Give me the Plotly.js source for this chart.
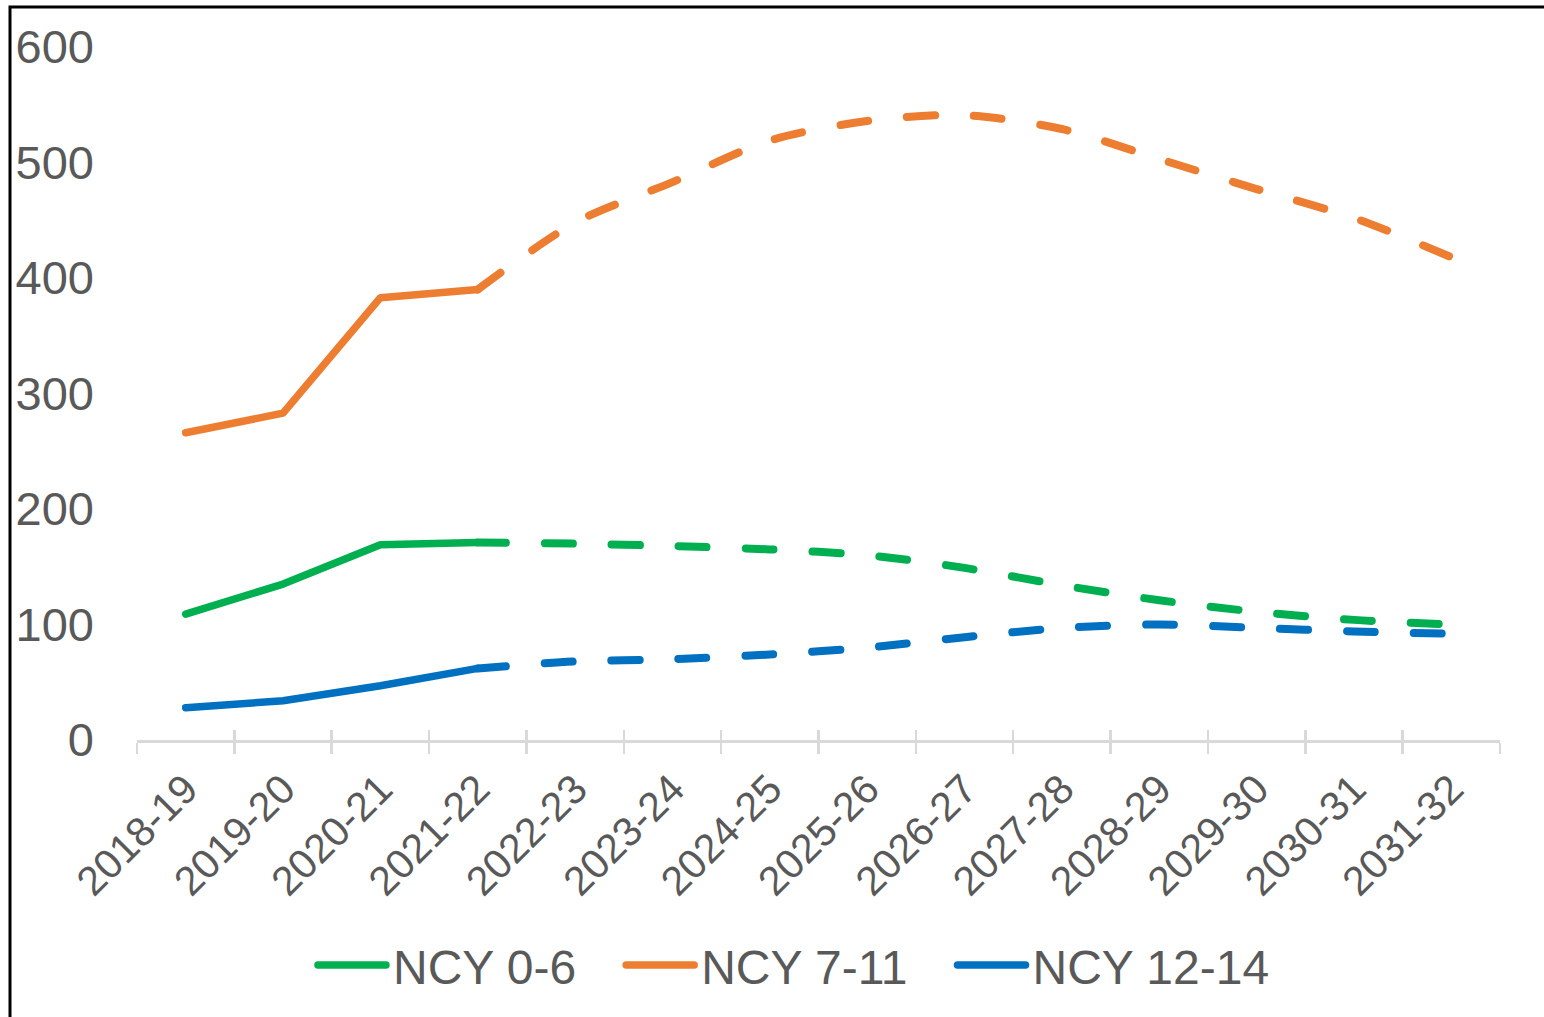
<!DOCTYPE html>
<html>
<head>
<meta charset="utf-8">
<script src="https://cdn.plot.ly/plotly-3.0.1.min.js"></script>
<style>
  html, body { margin: 0; padding: 0; background: #ffffff; }
  #chart { width: 1544px; height: 1017px; }
  path.js-line { stroke-linecap: round !important; stroke-linejoin: round !important; }
</style>
</head>
<body>
<div id="chart"></div>
<script>
const categories = ["2018-19","2019-20","2020-21","2021-22","2022-23","2023-24","2024-25","2025-26","2026-27","2027-28","2028-29","2029-30","2030-31","2031-32"];
const ncy0_6   = [109, 135, 169, 171, 170, 168, 165, 160, 149, 134, 121, 111, 104, 100];
const ncy7_11  = [266, 283, 383, 390, 448, 483, 519, 536, 541, 529, 503, 477, 452, 418];
const ncy12_14 = [28, 34, 47, 62, 68, 70, 74, 80, 89, 97, 100, 97, 94, 92];
const seriesNames = ["NCY 0-6", "NCY 7-11", "NCY 12-14"];
const lastActual = 3; // index of 2021-22, last solid point

const colors = ["#00B050", "#ED7D31", "#0070C0"];
const allSeries = [ncy0_6, ncy7_11, ncy12_14];
const FONT = "Liberation Sans, Arial, sans-serif";
const TXT = "#595959";
const NB = "\u00a0\u00a0\u00a0";

const traces = [];
allSeries.forEach((vals, i) => {
  traces.push({
    x: categories.slice(0, lastActual + 1),
    y: vals.slice(0, lastActual + 1),
    type: "scatter", mode: "lines",
    name: seriesNames[i] + (i < allSeries.length - 1 ? NB : ""),
    line: { color: colors[i], width: 7.5, shape: "linear" },
    legendgroup: "g" + i
  });
});
allSeries.forEach((vals, i) => {
  traces.push({
    x: categories.slice(lastActual),
    y: vals.slice(lastActual),
    type: "scatter", mode: "lines", name: seriesNames[i] + " (projected)",
    line: { color: colors[i], width: 8, shape: "spline", smoothing: 0.8, dash: "28px,39px" },
    showlegend: false, legendgroup: "g" + i
  });
});
// invisible helper trace for inward tick marks (ticks crossing the axis line)
traces.push({
  x: categories, y: categories.map(() => null), xaxis: "x2", yaxis: "y",
  type: "scatter", mode: "lines", showlegend: false, hoverinfo: "skip"
});

const layout = {
  width: 1544, height: 1017,
  paper_bgcolor: "#ffffff", plot_bgcolor: "#ffffff",
  margin: { l: 137, r: 44, t: 47, b: 277 },
  font: { family: FONT, color: TXT },
  showlegend: true,
  legend: {
    orientation: "h", x: 0.482, xanchor: "center", y: -0.325, yanchor: "middle",
    font: { family: FONT, size: 48, color: TXT },
    itemwidth: 70, itemclick: false, itemdoubleclick: false
  },
  xaxis: {
    type: "category", categoryorder: "array", categoryarray: categories,
    range: [-0.5, categories.length - 0.5],
    showline: true, linecolor: "#D9D9D9", linewidth: 2.5,
    ticks: "outside", ticklen: 11, tickwidth: 2.5, tickcolor: "#D9D9D9",
    tickson: "boundaries", tickangle: -45, ticklabelstandoff: 6,
    tickfont: { family: FONT, size: 41, color: TXT },
    showgrid: false, zeroline: false, fixedrange: true
  },
  xaxis2: {
    type: "category", categoryorder: "array", categoryarray: categories,
    range: [-0.5, categories.length - 0.5],
    overlaying: "x", anchor: "y", side: "bottom",
    showline: false, ticks: "inside", ticklen: 10, tickwidth: 2.5, tickcolor: "#D9D9D9",
    tickson: "boundaries", showticklabels: false, showgrid: false, zeroline: false, fixedrange: true
  },
  yaxis: {
    range: [0, 600], dtick: 100, tick0: 0,
    showline: false, showgrid: false, zeroline: false, ticks: "",
    ticklabelstandoff: 42,
    tickfont: { family: FONT, size: 47, color: TXT }, fixedrange: true
  },
  shapes: [{
    type: "rect", xref: "paper", yref: "paper",
    x0: (10 - 137) / 1363, x1: (1560 - 137) / 1363,
    y0: (740 - 1030) / 693, y1: (740 - 7) / 693,
    line: { color: "#000000", width: 3 }, fillcolor: "rgba(0,0,0,0)", layer: "below"
  }]
};

Plotly.newPlot("chart", traces, layout, { staticPlot: true, displayModeBar: false }).then(() => {
  document.querySelectorAll(".legend .legendlines path").forEach(p => {
    p.setAttribute("d", "M5,0h68");
  });
});
</script>
</body>
</html>
